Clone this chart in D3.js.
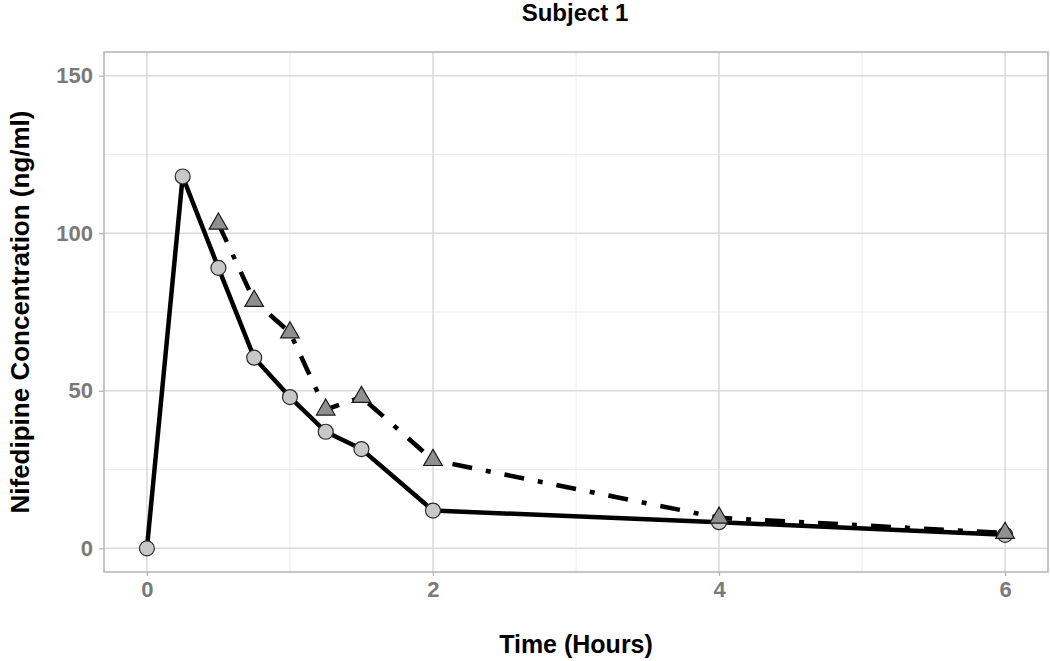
<!DOCTYPE html>
<html>
<head>
<meta charset="utf-8">
<script src="https://d3js.org/d3.v7.min.js"></script>
<style>
  body { margin: 0; background: #fff; }
  text { font-family: "Liberation Sans", Arial, sans-serif; font-weight: bold; }
</style>
</head>
<body>
<script>
// data
var timeSolid = [0, 0.25, 0.5, 0.75, 1, 1.25, 1.5, 2, 4, 6];
var concSolid = [0, 118, 89, 60.5, 48, 37, 31.5, 12, 8.3, 4.3];
var timeDash  = [0.5, 0.75, 1, 1.25, 1.5, 2, 4, 6];
var concDash  = [103, 78.5, 68.5, 44, 48, 28, 9.7, 4.9];
var xTicks = [0, 2, 4, 6];
var yTicks = [0, 50, 100, 150];
var xMinor = [1, 3, 5];
var yMinor = [25, 75, 125];

var W = 1050, H = 661;
var margin = { top: 52, right: 2, bottom: 89, left: 104 };

var svg = d3.select("body").append("svg")
    .attr("width", W)
    .attr("height", H);

var x = d3.scaleLinear().domain([-0.3, 6.3]).range([margin.left, W - margin.right]);
var y = d3.scaleLinear().domain([-7.5, 157.5]).range([H - margin.bottom, margin.top]);

var solid = timeSolid.map(function (t, i) { return { t: t, c: concSolid[i] }; });
var dash = timeDash.map(function (t, i) { return { t: t, c: concDash[i] }; });

// grid
var grid = svg.append("g");
grid.selectAll(".xmin").data(xMinor).enter().append("line")
    .attr("x1", d => x(d)).attr("x2", d => x(d))
    .attr("y1", margin.top).attr("y2", H - margin.bottom)
    .attr("stroke", "#ececec").attr("stroke-width", 1);
grid.selectAll(".ymin").data(yMinor).enter().append("line")
    .attr("y1", d => y(d)).attr("y2", d => y(d))
    .attr("x1", margin.left).attr("x2", W - margin.right)
    .attr("stroke", "#ececec").attr("stroke-width", 1);
grid.selectAll(".xmaj").data(xTicks).enter().append("line")
    .attr("x1", d => x(d)).attr("x2", d => x(d))
    .attr("y1", margin.top).attr("y2", H - margin.bottom)
    .attr("stroke", "#dadada").attr("stroke-width", 1.5);
grid.selectAll(".ymaj").data(yTicks).enter().append("line")
    .attr("y1", d => y(d)).attr("y2", d => y(d))
    .attr("x1", margin.left).attr("x2", W - margin.right)
    .attr("stroke", "#dadada").attr("stroke-width", 1.5);

// axes
var xAxis = svg.append("g")
    .attr("transform", "translate(0," + (H - margin.bottom) + ")")
    .call(d3.axisBottom(x).tickValues(xTicks).tickSize(4).tickPadding(5).tickFormat(d3.format("d")));
var yAxis = svg.append("g")
    .attr("transform", "translate(" + margin.left + ",0)")
    .call(d3.axisLeft(y).tickValues(yTicks).tickSize(5).tickPadding(6).tickFormat(d3.format("d")));
[xAxis, yAxis].forEach(function (a) {
  a.select(".domain").remove();
  a.selectAll(".tick line").attr("stroke", "#b3b3b3").attr("stroke-width", 1.2);
  a.selectAll(".tick text").attr("fill", "#7a7a7a").style("font-size", "22px");
});

// panel border
svg.append("rect")
    .attr("x", margin.left).attr("y", margin.top)
    .attr("width", W - margin.left - margin.right)
    .attr("height", H - margin.top - margin.bottom)
    .attr("fill", "none").attr("stroke", "#b3b3b3").attr("stroke-width", 1.5);

// lines
var line = d3.line().x(d => x(d.t)).y(d => y(d.c));

svg.append("path")
    .datum(dash)
    .attr("d", line)
    .attr("fill", "none")
    .attr("stroke", "#000")
    .attr("stroke-width", 4.5)
    .attr("stroke-dasharray", "20,14,5,14");

svg.append("path")
    .datum(solid)
    .attr("d", line)
    .attr("fill", "none")
    .attr("stroke", "#000")
    .attr("stroke-width", 4.5)
    .attr("stroke-linejoin", "round");

// points
svg.selectAll(".circ").data(solid).enter().append("circle")
    .attr("cx", d => x(d.t)).attr("cy", d => y(d.c))
    .attr("r", 7.5)
    .attr("fill", "#c8c8c8")
    .attr("stroke", "#2a2a2a")
    .attr("stroke-width", 1.2);

var tri = d3.symbol().type(d3.symbolTriangle).size(150);
svg.selectAll(".tri").data(dash).enter().append("path")
    .attr("transform", d => "translate(" + x(d.t) + "," + y(d.c) + ")")
    .attr("d", tri)
    .attr("fill", "#8f8f8f")
    .attr("stroke", "#1a1a1a")
    .attr("stroke-width", 1.2);

// titles
svg.append("text")
    .attr("x", 575).attr("y", 21)
    .attr("text-anchor", "middle")
    .style("font-size", "24px")
    .text("Subject 1");

svg.append("text")
    .attr("x", 576).attr("y", 653)
    .attr("text-anchor", "middle")
    .style("font-size", "25px")
    .text("Time (Hours)");

svg.append("text")
    .attr("transform", "translate(29," + ((margin.top + H - margin.bottom) / 2) + ") rotate(-90)")
    .attr("text-anchor", "middle")
    .style("font-size", "26px")
    .text("Nifedipine Concentration (ng/ml)");
</script>
</body>
</html>
